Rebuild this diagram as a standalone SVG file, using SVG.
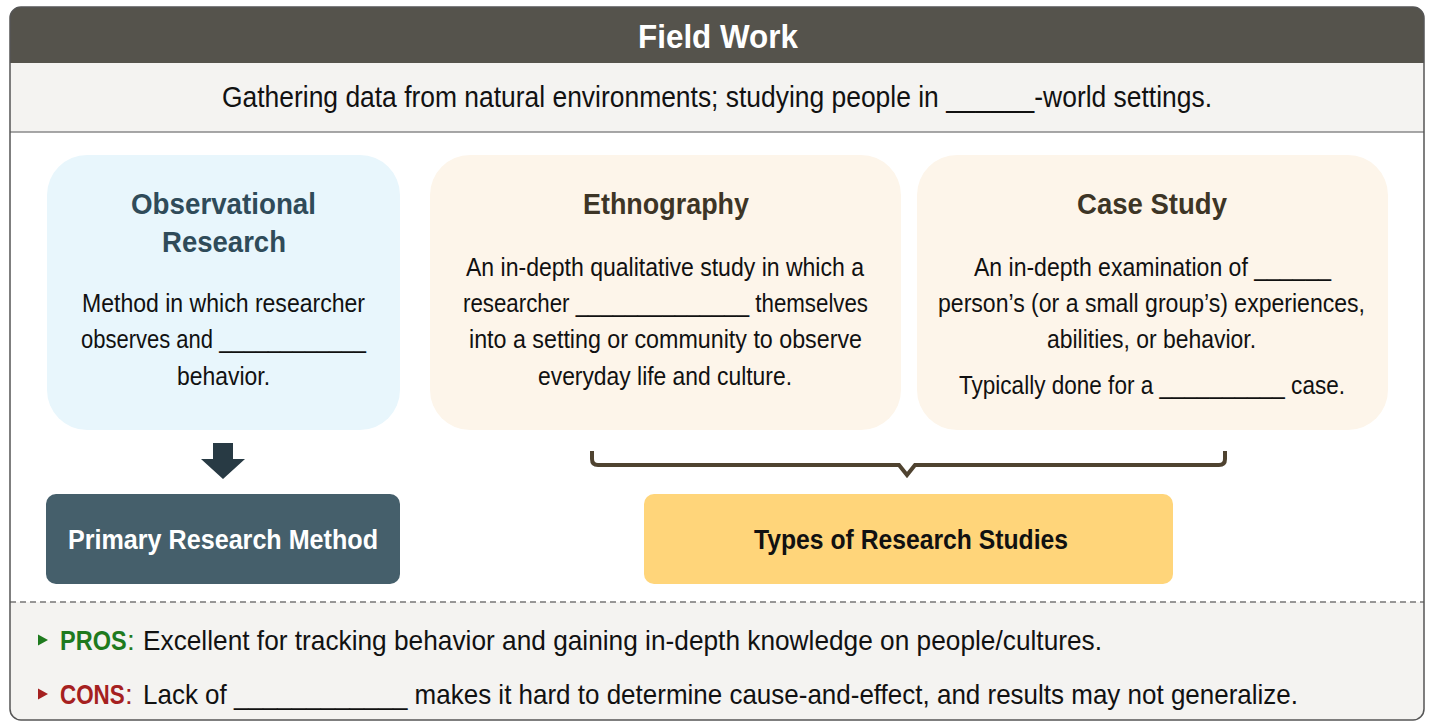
<svg xmlns="http://www.w3.org/2000/svg" width="1430" height="723" viewBox="0 0 1430 723">
<style>
text{font-family:"Liberation Sans",Arial,sans-serif;}
.t{font-size:29px;fill:#111;text-anchor:middle;}
.b{font-size:25px;fill:#111;text-anchor:middle;}
.h{font-size:29px;font-weight:bold;text-anchor:middle;}
.lbl{font-size:27px;font-weight:bold;text-anchor:middle;}
.l{font-size:28px;fill:#111;}
.pro{fill:#1e7a1e;}
.con{fill:#a52020;}
</style>
<defs>
<clipPath id="frame"><rect x="10" y="7" width="1414" height="713" rx="11"/></clipPath>
</defs>
<g id="frame-bg" clip-path="url(#frame)">
<rect x="10" y="7" width="1414" height="713" fill="#ffffff"/>
<rect x="10" y="7" width="1414" height="56" fill="#55534c"/>
<rect x="10" y="63" width="1414" height="69" fill="#f4f3f1"/>
<line x1="10" y1="132" x2="1424" y2="132" stroke="#8a8a8a" stroke-width="1.5"/>
<rect x="10" y="602" width="1414" height="118" fill="#f4f3f1"/>
<line x1="10" y1="602" x2="1424" y2="602" stroke="#777" stroke-width="1.5" stroke-dasharray="6 4"/>
</g>
<rect x="10" y="7" width="1414" height="713" rx="11" fill="none" stroke="#555" stroke-width="1.5"/>
<g id="title">
<text x="718" y="48" class="h" style="font-size:34px" fill="#ffffff" textLength="160" lengthAdjust="spacingAndGlyphs">Field Work</text>
</g>
<g id="subtitle">
<text x="717" y="107" class="t" textLength="990" lengthAdjust="spacingAndGlyphs">Gathering data from natural environments; studying people in ______-world settings.</text>
</g>
<g id="observational">
<rect x="47" y="155" width="353" height="275" rx="40" fill="#e8f6fc"/>
<text x="223.5" y="214" class="h" fill="#2f4b59" textLength="185" lengthAdjust="spacingAndGlyphs">Observational</text>
<text x="224" y="252" class="h" fill="#2f4b59" textLength="124" lengthAdjust="spacingAndGlyphs">Research</text>
<text x="223.5" y="312" class="b" textLength="283" lengthAdjust="spacingAndGlyphs">Method in which researcher</text>
<text x="223.5" y="348" class="b" textLength="285" lengthAdjust="spacingAndGlyphs">observes and ____________</text>
<text x="223.5" y="385" class="b" textLength="93" lengthAdjust="spacingAndGlyphs">behavior.</text>
</g>
<g id="ethnography">
<rect x="430" y="155" width="471" height="275" rx="40" fill="#fdf5ea"/>
<text x="666" y="214" class="h" fill="#3d3526" textLength="166" lengthAdjust="spacingAndGlyphs">Ethnography</text>
<text x="665" y="276" class="b" textLength="398" lengthAdjust="spacingAndGlyphs">An in-depth qualitative study in which a</text>
<text x="665.5" y="312" class="b" textLength="405" lengthAdjust="spacingAndGlyphs">researcher ______________ themselves</text>
<text x="665.5" y="348" class="b" textLength="393" lengthAdjust="spacingAndGlyphs">into a setting or community to observe</text>
<text x="665" y="385" class="b" textLength="254" lengthAdjust="spacingAndGlyphs">everyday life and culture.</text>
</g>
<g id="case-study">
<rect x="917" y="155" width="471" height="275" rx="40" fill="#fdf5ea"/>
<text x="1152" y="214" class="h" fill="#3d3526" textLength="150" lengthAdjust="spacingAndGlyphs">Case Study</text>
<text x="1152.5" y="276" class="b" textLength="357" lengthAdjust="spacingAndGlyphs">An in-depth examination of ______</text>
<text x="1151.5" y="312" class="b" textLength="427" lengthAdjust="spacingAndGlyphs">person’s (or a small group’s) experiences,</text>
<text x="1151.5" y="348" class="b" textLength="209" lengthAdjust="spacingAndGlyphs">abilities, or behavior.</text>
<text x="1152" y="394" class="b" textLength="386" lengthAdjust="spacingAndGlyphs">Typically done for a  __________ case.</text>
</g>
<g id="connectors">
<path d="M213 443 H233 V459 H245 L223 479 L201 459 H213 Z" fill="#283a44"/>
<path d="M592 451 V459 Q592 465 598 465 H899 L907 475 L915 465 H1219 Q1225 465 1225 459 V451" fill="none" stroke="#4f4330" stroke-width="4" stroke-linejoin="miter"/>
</g>
<g id="primary-method">
<rect x="46" y="494" width="354" height="90" rx="10" fill="#455f6b"/>
<text x="223" y="549" class="lbl" fill="#ffffff" textLength="310" lengthAdjust="spacingAndGlyphs">Primary Research Method</text>
</g>
<g id="types">
<rect x="644" y="494" width="529" height="90" rx="10" fill="#ffd57a"/>
<text x="911" y="549" class="lbl" fill="#111" textLength="314" lengthAdjust="spacingAndGlyphs">Types of Research Studies</text>
</g>
<g id="pros">
<path d="M38 634.5 L48 640 L38 645.5 Z" class="pro"/>
<text transform="translate(60 650) scale(0.84 1)" class="l pro" font-weight="bold">PROS</text>
<text x="127" y="650" class="l pro">:</text>
<text x="143" y="650" class="l" textLength="959" lengthAdjust="spacingAndGlyphs">Excellent for tracking behavior and gaining in-depth knowledge on people/cultures.</text>
</g>
<g id="cons">
<path d="M38 688.5 L48 694 L38 699.5 Z" class="con"/>
<text transform="translate(60 704) scale(0.8 1)" class="l con" font-weight="bold">CONS</text>
<text x="125" y="704" class="l con">:</text>
<text x="143" y="704" class="l" textLength="1155" lengthAdjust="spacingAndGlyphs">Lack of ____________ makes it hard to determine cause-and-effect, and results may not generalize.</text>
</g>
</svg>
